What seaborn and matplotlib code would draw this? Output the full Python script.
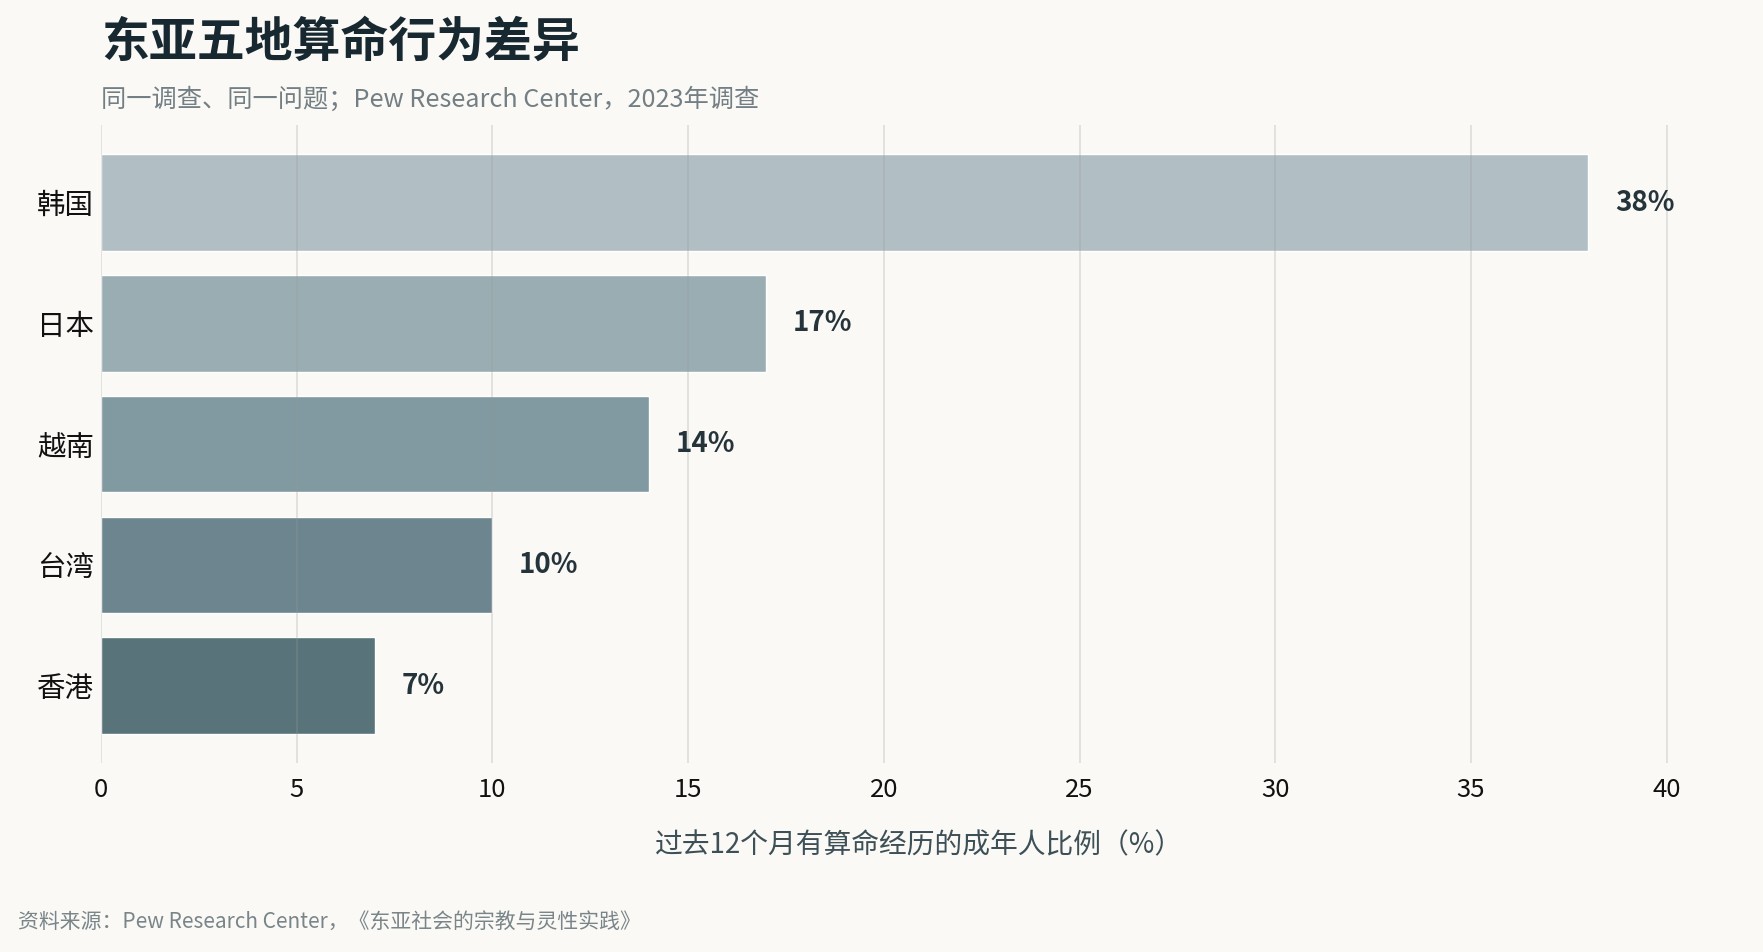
import numpy as np
import pandas as pd
import seaborn as sns
import matplotlib.pyplot as plt

# data
regions = ["韩国", "日本", "越南", "台湾", "香港"]
share = [38, 17, 14, 10, 7]
bar_colors = ["#b1bfc4", "#9aadb2", "#8199a0", "#6c858e", "#587379"]
x_ticks = [0, 5, 10, 15, 20, 25, 30, 35, 40]

title = "东亚五地算命行为差异"
subtitle = "同一调查、同一问题；Pew Research Center，2023年调查"
xlabel = "过去12个月有算命经历的成年人比例（%）"
source = "资料来源：Pew Research Center，《东亚社会的宗教与灵性实践》"

df = pd.DataFrame({"region": regions, "share": share})

sns.set_theme(style="white")
plt.rcParams["font.family"] = ["Noto Sans CJK SC", "DejaVu Sans"]
bg = "#faf9f5"

fig = plt.figure(figsize=(17.63, 9.52), dpi=100, facecolor=bg)
ax = fig.add_axes([0.0573, 0.1985, 0.928, 0.670])
ax.set_facecolor(bg)

sns.barplot(data=df, x="share", y="region", hue="region", palette=bar_colors,
            order=regions, width=0.8, legend=False, ax=ax, saturation=1)

ax.set_xlim(0, max(share) * 1.1)
ax.set_ylim(len(regions) - 1 + 0.64, -0.64)
ax.set_xticks(x_ticks)
ax.set_axisbelow(False)
ax.grid(axis="x", color="#9a9a9a", alpha=0.3, linewidth=1.2)
ax.grid(axis="y", visible=False)
for s in ax.spines.values():
    s.set_visible(False)
ax.tick_params(axis="both", length=0)
ax.tick_params(axis="x", labelsize=18.5, colors="#111111", pad=10)
ax.tick_params(axis="y", labelsize=20.5, colors="#111111", pad=5)

# value labels
for i, v in enumerate(share):
    ax.annotate(f"{v}%", xy=(v, i), xytext=(19, 0), textcoords="offset points",
                va="center", ha="left", fontsize=20, fontweight="bold", color="#25343b")

ax.set_xlabel(xlabel, fontsize=20, color="#3d4f57", labelpad=20)
ax.set_ylabel("")

fig.text(101 / 1763, 1 - 42 / 952, title, fontsize=34.5, fontweight="bold",
         color="#172830", va="center", ha="left")
fig.text(101 / 1763, 1 - 100 / 952, subtitle, fontsize=18.2, color="#737f84",
         va="center", ha="left")
fig.text(18 / 1763, 1 - 922 / 952, source, fontsize=15, color="#7a8589",
         va="center", ha="left")

fig.savefig("out.png", dpi=100, facecolor=bg)
